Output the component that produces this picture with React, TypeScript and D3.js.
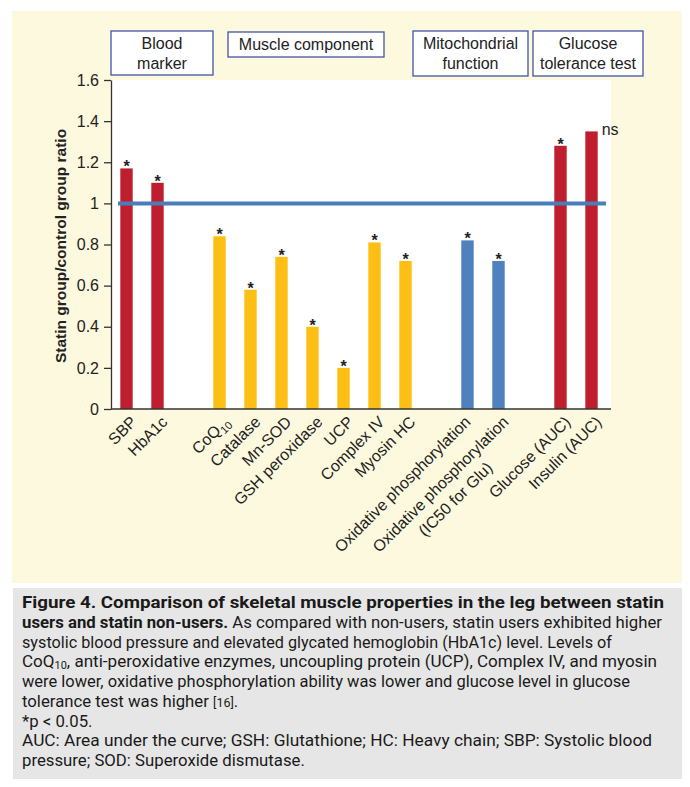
import React, { useEffect, useRef } from 'react';
import * as d3 from 'd3';

// slots along the x axis; keys starting with "_" are empty spacers between groups
const slots = ['SBP', 'HbA1c', '_a', 'CoQ10', 'Catalase', 'MnSOD', 'GSH', 'UCP', 'ComplexIV', 'MyosinHC', '_b', 'OxPhos', 'OxPhosIC50', '_c', 'Glucose', 'Insulin'];

const barKeys = ['SBP', 'HbA1c', 'CoQ10', 'Catalase', 'MnSOD', 'GSH', 'UCP', 'ComplexIV', 'MyosinHC', 'OxPhos', 'OxPhosIC50', 'Glucose', 'Insulin'];
const barLabels = [
  ['SBP'],
  ['HbA1c'],
  ['CoQ10'],
  ['Catalase'],
  ['Mn-SOD'],
  ['GSH peroxidase'],
  ['UCP'],
  ['Complex IV'],
  ['Myosin HC'],
  ['Oxidative phosphorylation'],
  ['Oxidative phosphorylation', '(IC50 for Glu)'],
  ['Glucose (AUC)'],
  ['Insulin (AUC)'],
];
const barValues = [1.17, 1.1, 0.84, 0.58, 0.74, 0.4, 0.2, 0.81, 0.72, 0.82, 0.72, 1.28, 1.35];
const barGroups = ['blood', 'blood', 'muscle', 'muscle', 'muscle', 'muscle', 'muscle', 'muscle', 'muscle', 'mito', 'mito', 'glucose', 'glucose'];
const barMarks = ['*', '*', '*', '*', '*', '*', '*', '*', '*', '*', '*', '*', 'ns'];

const yTicks = [0, 0.2, 0.4, 0.6, 0.8, 1, 1.2, 1.4, 1.6];
const referenceValue = 1;

const groupTitles = [['Blood', 'marker'], ['Muscle component'], ['Mitochondrial', 'function'], ['Glucose', 'tolerance test']];

const captionLines: { bold?: string; text?: string; sub?: [string, string, string]; ref?: [string, string] }[] = [
  { bold: 'Figure 4. Comparison of skeletal muscle properties in the leg between statin' },
  { bold: 'users and statin non-users.', text: ' As compared with non-users, statin users exhibited higher' },
  { text: 'systolic blood pressure and elevated glycated hemoglobin (HbA1c) level. Levels of' },
  { sub: ['CoQ', '10', ', anti-peroxidative enzymes, uncoupling protein (UCP), Complex IV, and myosin'] },
  { text: 'were lower, oxidative phosphorylation ability was lower and glucose level in glucose' },
  { ref: ['tolerance test was higher ', '[16]'] },
  { text: '*p < 0.05.' },
  { text: 'AUC: Area under the curve; GSH: Glutathione; HC: Heavy chain; SBP: Systolic blood' },
  { text: 'pressure; SOD: Superoxide dismutase.' },
];
// approximate printed width of each caption line (0 = follow the common stretch)
const captionWidths = [642, 640, 590, 635, 608, 0, 0, 630, 0];

const colors: Record<string, string> = {
  blood: '#be1e2d',
  muscle: '#fdbf14',
  mito: '#4f81bd',
  glucose: '#be1e2d',
};

const W = 690;
const H = 787;
const font = "'Liberation Sans', Arial, Helvetica, sans-serif";
const captionFont = "Roboto, 'Open Sans', sans-serif";

// header box layout
const boxes = [
  { x: 111, y: 31, w: 102, h: 44 },
  { x: 228, y: 32, w: 156, h: 25 },
  { x: 413, y: 31, w: 115, h: 45 },
  { x: 533, y: 31, w: 110, h: 45 },
];

const App: React.FC = () => {
  const svgRef = useRef<SVGSVGElement>(null);

  useEffect(() => {
    document.body.style.margin = '0';
    if (!svgRef.current) return;
    const svg = d3.select(svgRef.current);
    svg.selectAll('*').remove();

    const plot = { left: 111, right: 611, top: 80, bottom: 409 };

    // backgrounds
    svg.append('rect').attr('x', 12).attr('y', 11).attr('width', 670).attr('height', 572).attr('fill', '#fdf9df');
    svg.append('rect').attr('x', 13).attr('y', 588).attr('width', 669).attr('height', 191).attr('fill', '#e6e6e6');
    svg
      .append('rect')
      .attr('x', plot.left)
      .attr('y', plot.top)
      .attr('width', plot.right - plot.left)
      .attr('height', plot.bottom - plot.top)
      .attr('fill', '#fff');

    const x = d3.scaleBand().domain(slots).range([111, 607]).paddingInner(0.6).paddingOuter(0.3);
    const y = d3.scaleLinear().domain([0, 1.6]).range([plot.bottom, plot.top]);

    const g = svg.append('g');

    // bars
    g.selectAll('rect.bar')
      .data(barKeys)
      .enter()
      .append('rect')
      .attr('class', 'bar')
      .attr('x', (d) => x(d)!)
      .attr('y', (d, i) => y(barValues[i]))
      .attr('width', x.bandwidth())
      .attr('height', (d, i) => y(0) - y(barValues[i]))
      .attr('fill', (d, i) => colors[barGroups[i]]);

    // reference line
    g.append('line')
      .attr('x1', 118)
      .attr('x2', 606)
      .attr('y1', y(referenceValue))
      .attr('y2', y(referenceValue))
      .attr('stroke', '#4a7ebb')
      .attr('stroke-width', 4);

    // significance marks
    g.selectAll('text.mark')
      .data(barKeys)
      .enter()
      .append('text')
      .attr('class', 'mark')
      .attr('x', (d, i) => (barMarks[i] === 'ns' ? x(d)! + x.bandwidth() + 4 : x(d)! + x.bandwidth() / 2))
      .attr('y', (d, i) => y(barValues[i]) + 4)
      .attr('text-anchor', (d, i) => (barMarks[i] === 'ns' ? 'start' : 'middle'))
      .style('font-family', font)
      .style('font-size', '16px')
      .style('font-weight', (d, i) => (barMarks[i] === 'ns' ? 'normal' : 'bold'))
      .attr('fill', '#222')
      .text((d, i) => barMarks[i]);

    // y axis
    const yAxis = svg
      .append('g')
      .attr('transform', `translate(${plot.left},0)`)
      .call(d3.axisLeft(y).tickValues(yTicks).tickSize(7).tickPadding(5).tickSizeOuter(0).tickFormat((d) => String(d)));
    yAxis.select('.domain').attr('stroke', '#333').attr('stroke-width', 1.3);
    yAxis.selectAll('.tick line').attr('stroke', '#333').attr('stroke-width', 1.3);
    yAxis.selectAll('.tick text').style('font-family', font).style('font-size', '16px').attr('fill', '#222');

    // x axis baseline
    svg
      .append('line')
      .attr('x1', plot.left)
      .attr('x2', plot.right)
      .attr('y1', plot.bottom)
      .attr('y2', plot.bottom)
      .attr('stroke', '#333')
      .attr('stroke-width', 1.5);

    // x labels
    barKeys.forEach((key, i) => {
      const cx = x(key)! + x.bandwidth() / 2;
      const shift = key === 'OxPhos' ? 4 : 11;
      const lg = svg.append('g').attr('transform', `translate(${cx + shift},423) rotate(-45)`);
      const lines = barLabels[i];
      const t1 = lg
        .append('text')
        .attr('text-anchor', 'end')
        .style('font-family', font)
        .style('font-size', '16px')
        .attr('fill', '#222');
      if (lines[0] === 'CoQ10') {
        t1.append('tspan').text('CoQ');
        t1.append('tspan').attr('dy', 4).style('font-size', '11px').text('10');
      } else {
        t1.text(lines[0]);
      }
      if (lines.length > 1) {
        const w1 = (t1.node() as SVGTextElement).getComputedTextLength();
        lg.append('text')
          .attr('x', -w1 / 2)
          .attr('y', 21)
          .attr('text-anchor', 'middle')
          .style('font-family', font)
          .style('font-size', '16px')
          .attr('fill', '#222')
          .text(lines[1]);
      }
    });

    // y title
    svg
      .append('text')
      .attr('transform', `translate(66,246) rotate(-90)`)
      .attr('text-anchor', 'middle')
      .style('font-family', font)
      .style('font-size', '15.5px')
      .style('font-weight', 'bold')
      .attr('fill', '#222')
      .text('Statin group/control group ratio');

    // group header boxes
    groupTitles.forEach((lines, i) => {
      const b = boxes[i];
      svg
        .append('rect')
        .attr('x', b.x)
        .attr('y', b.y)
        .attr('width', b.w)
        .attr('height', b.h)
        .attr('fill', '#fff')
        .attr('stroke', '#4353a3')
        .attr('stroke-width', 1.3);
      const cy = b.y + b.h / 2;
      lines.forEach((ln, j) => {
        svg
          .append('text')
          .attr('x', b.x + b.w / 2)
          .attr('y', cy + (j - (lines.length - 1) / 2) * 20 + 5.5)
          .attr('text-anchor', 'middle')
          .style('font-family', font)
          .style('font-size', '16px')
          .attr('fill', '#222')
          .text(ln);
      });
    });

    // caption
    const fs = 16.4;
    const texts = captionLines.map((ln, i) => {
      const t = svg
        .append('text')
        .attr('x', 22)
        .attr('y', 608 + i * 19.75)
        .style('font-family', captionFont)
        .style('font-size', `${fs}px`)
        .attr('fill', '#1a1a1a');
      if (ln.bold) t.append('tspan').style('font-weight', 'bold').text(ln.bold);
      if (ln.text) t.append('tspan').text(ln.text);
      if (ln.sub) {
        t.append('tspan').text(ln.sub[0]);
        t.append('tspan').attr('dy', 1.5).style('font-size', `${fs * 0.64}px`).text(ln.sub[1]);
        t.append('tspan').attr('dy', -1.5).text(ln.sub[2]);
      }
      if (ln.ref) {
        t.append('tspan').text(ln.ref[0]);
        t.append('tspan').style('font-size', `${fs * 0.75}px`).text(ln.ref[1]);
        t.append('tspan').text('.');
      }
      return t;
    });
    const naturals = texts.map((t) => (t.node() as SVGTextElement).getComputedTextLength());
    const k = captionWidths[1] / naturals[1];
    texts.forEach((t, i) => {
      const target = captionWidths[i] || naturals[i] * k;
      t.attr('textLength', target).attr('lengthAdjust', 'spacingAndGlyphs');
    });
  }, []);

  return <svg ref={svgRef} width={W} height={H} style={{ display: 'block' }} />;
};

export default App;
